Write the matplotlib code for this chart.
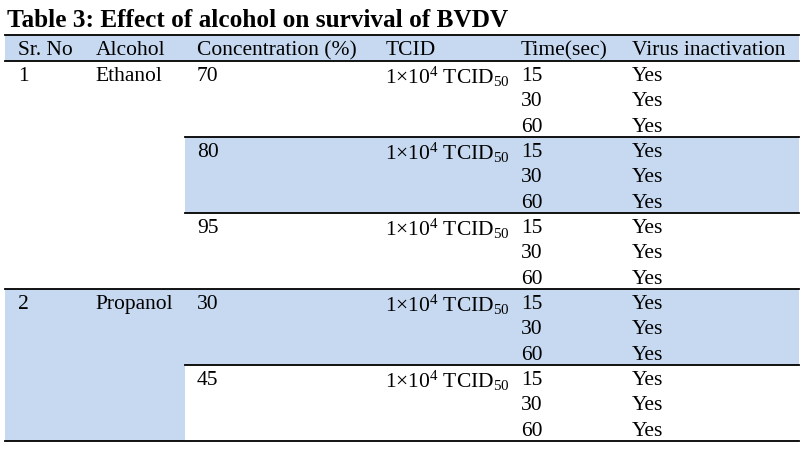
import matplotlib
matplotlib.use("Agg")
import matplotlib.pyplot as plt
from matplotlib.patches import Rectangle

plt.rcParams['font.family'] = ['Liberation Serif', 'DejaVu Serif']
plt.rcParams['mathtext.fontset'] = 'custom'
plt.rcParams['mathtext.rm'] = 'Liberation Serif'
plt.rcParams['mathtext.default'] = 'regular'

# ---- data ----
title = "Table 3: Effect of alcohol on survival of BVDV"
headers = ["Sr. No", "Alcohol", "Concentration (%)", "TCID", "Time(sec)", "Virus inactivation"]
sr_numbers = ["1", "2"]
alcohols = ["Ethanol", "Propanol"]
concentrations = [["70", "80", "95"], ["30", "45"]]
tcid_label = "1×10$^{4}$ TCID$_{50}$"
times = ["15", "30", "60"]
inactivation = ["Yes", "Yes", "Yes"]

# ---- layout (pixels) ----
W, H = 810, 458
left, right = 5, 799
col_x = [17, 95, 196, 385, 520, 631]
merged_right = 185
header_top, header_bot = 35, 61
block_h = 76
sub_h = 25.5
first_base = 20
blue = "#C6D9F0"
fs = 15.5
lw = 1.3

fig = plt.figure(figsize=(W / 100, H / 100), dpi=100)
ax = fig.add_axes([0, 0, 1, 1])
ax.set_xlim(0, W)
ax.set_ylim(H, 0)
ax.axis('off')

ax.text(7, 27, title, fontsize=18.2, fontweight='bold', va='baseline', ha='left')

# header
ax.add_patch(Rectangle((left, header_top), right - left, header_bot - header_top,
                       facecolor=blue, edgecolor='none', zorder=0))
for x, h in zip(col_x, headers):
    ax.text(x + 1, 55, h, fontsize=fs, va='baseline', ha='left')
ax.plot([left, right], [header_top, header_top], color='black', lw=lw)
ax.plot([left, right], [header_bot, header_bot], color='black', lw=lw)

y = header_bot
block_idx = 0
for g, (sr, alc, concs) in enumerate(zip(sr_numbers, alcohols, concentrations)):
    group_top = y
    group_h = block_h * len(concs)
    first_shaded = (block_idx % 2 == 1)
    if first_shaded:
        ax.add_patch(Rectangle((left, group_top), merged_right - left, group_h,
                               facecolor=blue, edgecolor='none', zorder=0))
    ax.text(col_x[0] + 1, group_top + first_base, sr, fontsize=fs, va='baseline')
    ax.text(col_x[1], group_top + first_base, alc, fontsize=fs, va='baseline')
    for j, c in enumerate(concs):
        top = y
        if block_idx % 2 == 1:
            ax.add_patch(Rectangle((merged_right, top), right - merged_right, block_h,
                                   facecolor=blue, edgecolor='none', zorder=0))
        ax.text(col_x[2] + 1, top + first_base, c, fontsize=fs, va='baseline')
        ax.text(col_x[3], top + first_base + 3, tcid_label, fontsize=fs, va='baseline')
        for k, (t, v) in enumerate(zip(times, inactivation)):
            yb = top + first_base + k * sub_h
            ax.text(col_x[4] + 1, yb, t, fontsize=fs, va='baseline')
            ax.text(col_x[5] + 1, yb, v, fontsize=fs, va='baseline')
        y += block_h
        block_idx += 1
        if j < len(concs) - 1:
            ax.plot([merged_right, right], [y, y], color='black', lw=lw)
    ax.plot([left, right], [y, y], color='black', lw=lw)

fig.savefig("out.png", dpi=100)
